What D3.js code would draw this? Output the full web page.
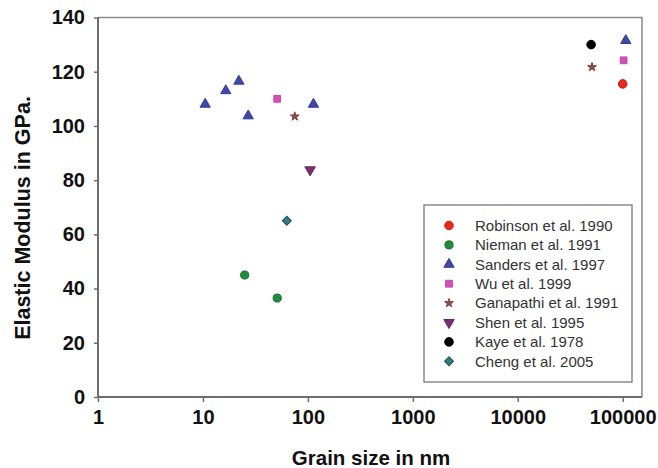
<!DOCTYPE html>
<html>
<head>
<meta charset="utf-8">
<script src="https://cdn.jsdelivr.net/npm/d3@7"></script>
<style>
  body { margin: 0; background: #fff; }
  svg { display: block; font-family: "Liberation Sans", Arial, sans-serif; }
</style>
</head>
<body>
<div id="chart"></div>
<script>
// grain size (nm), elastic modulus (GPa)
const robinson  = [[100000, 115.5]];
const nieman    = [[25, 45], [51, 36.5]];
const sanders   = [[10.5, 108], [16.5, 113], [22, 116.5], [27, 103.7], [113, 108], [107000, 131.5]];
const wu        = [[51, 110], [102000, 124.2]];
const ganapathi = [[75, 103.5], [51000, 121.7]];
const shen      = [[105, 83.8]];
const kaye      = [[50000, 130]];
const cheng     = [[63, 65]];

const seriesNames = ["Robinson et al. 1990", "Nieman et al. 1991", "Sanders et al. 1997",
  "Wu et al. 1999", "Ganapathi et al. 1991", "Shen et al. 1995", "Kaye et al. 1978", "Cheng et al. 2005"];
const seriesData = [robinson, nieman, sanders, wu, ganapathi, shen, kaye, cheng];

const xTicks = [1, 10, 100, 1000, 10000, 100000];
const yTicks = [0, 20, 40, 60, 80, 100, 120, 140];

// marker look for each series
const STYLE = [
  { sym: d3.symbolCircle,   size: 58, rot: 0,   fill: "#e62a1e", stroke: "#c81a12" },
  { sym: d3.symbolCircle,   size: 52, rot: 0,   fill: "#1f8c3c", stroke: "#15702e" },
  { sym: d3.symbolTriangle, size: 46, rot: 0,   fill: "#3f48a6", stroke: "#343c92" },
  { sym: d3.symbolSquare,   size: 46, rot: 0,   fill: "#cf52bb", stroke: "#c048ac" },
  { sym: d3.symbolStar,     size: 24, rot: 0,   fill: "#8c4c4c", stroke: "#7a3e3e" },
  { sym: d3.symbolTriangle, size: 48, rot: 180, fill: "#7a2f72", stroke: "#6a2662" },
  { sym: d3.symbolCircle,   size: 58, rot: 0,   fill: "#000",    stroke: "#000" },
  { sym: d3.symbolSquare,   size: 40, rot: 45,  fill: "#2f7d80", stroke: "#1d4f52" }
];

const W = 658, H = 468;
const PLOT = { left: 98, top: 17.5, right: 642, bottom: 397 };

const svg = d3.select("#chart").append("svg")
  .attr("width", W).attr("height", H);

const x = d3.scaleLog().domain([1, 100000]).range([PLOT.left, 622.7]);
const y = d3.scaleLinear().domain([0, 140]).range([PLOT.bottom, PLOT.top]);

// frame (top + right lighter)
svg.append("path")
  .attr("d", `M${PLOT.left},${PLOT.top}H${PLOT.right}V${PLOT.bottom}`)
  .attr("fill", "none")
  .attr("stroke", "#8a8a8a")
  .attr("stroke-width", 1.5);

// ── Axes ──
const yAxis = svg.append("g")
  .attr("transform", `translate(${PLOT.left},0)`)
  .call(d3.axisLeft(y).tickValues(yTicks).tickSize(4).tickPadding(9));

const xAxis = svg.append("g")
  .attr("transform", `translate(0,${PLOT.bottom})`)
  .call(d3.axisBottom(x).tickValues(xTicks).tickFormat(d3.format("d")).tickSize(5).tickPadding(8));

[xAxis, yAxis].forEach(a => {
  a.select(".domain").attr("stroke", "#6e6e6e").attr("stroke-width", 2);
  a.selectAll(".tick line").attr("stroke", "#6e6e6e").attr("stroke-width", 1.5);
  a.selectAll(".tick text")
    .attr("fill", "#111")
    .style("font-size", "20px")
    .style("font-weight", "bold")
    .style("font-family", "'Liberation Sans', Arial, sans-serif");
});
xAxis.select(".domain").attr("d", `M${PLOT.left},0H${PLOT.right}`);
yAxis.select(".domain").attr("d", `M0,${PLOT.top}V${PLOT.bottom}`);

// axis titles
svg.append("text")
  .attr("x", 371).attr("y", 465)
  .attr("text-anchor", "middle")
  .style("font-size", "20.5px").style("font-weight", "bold")
  .attr("fill", "#111")
  .text("Grain size in nm");

svg.append("text")
  .attr("transform", "translate(30,218) rotate(-90)")
  .attr("text-anchor", "middle")
  .style("font-size", "21.5px").style("font-weight", "bold")
  .attr("fill", "#111")
  .text("Elastic Modulus in GPa.");

// ── Points ──
function symPath(s) {
  return d3.symbol().type(s.sym).size(s.size)();
}

seriesData.forEach((pts, i) => {
  const s = STYLE[i];
  svg.append("g").selectAll("path")
    .data(pts)
    .join("path")
    .attr("d", symPath(s))
    .attr("transform", d => `translate(${x(d[0])},${y(d[1])}) rotate(${s.rot})`)
    .attr("fill", s.fill)
    .attr("stroke", s.stroke)
    .attr("stroke-width", 1);
});

// ── Legend ──
const LEG = { x: 424, y: 205, w: 208, h: 177, row: 19.4 };
const leg = svg.append("g").attr("transform", `translate(${LEG.x},${LEG.y})`);
leg.append("rect")
  .attr("width", LEG.w).attr("height", LEG.h)
  .attr("fill", "#fff")
  .attr("stroke", "#8a8a8a")
  .attr("stroke-width", 1.5);

const rows = leg.selectAll("g.row")
  .data(seriesNames)
  .join("g")
  .attr("class", "row")
  .attr("transform", (_, i) => `translate(0,${20.5 + i * LEG.row})`);

rows.append("path")
  .attr("d", (_, i) => symPath(STYLE[i]))
  .attr("transform", (_, i) => `translate(25,0) rotate(${STYLE[i].rot})`)
  .attr("fill", (_, i) => STYLE[i].fill)
  .attr("stroke", (_, i) => STYLE[i].stroke);

rows.append("text")
  .attr("x", 51)
  .attr("dy", "0.35em")
  .style("font-size", "15px")
  .attr("fill", "#333")
  .text(d => d);
</script>
</body>
</html>
